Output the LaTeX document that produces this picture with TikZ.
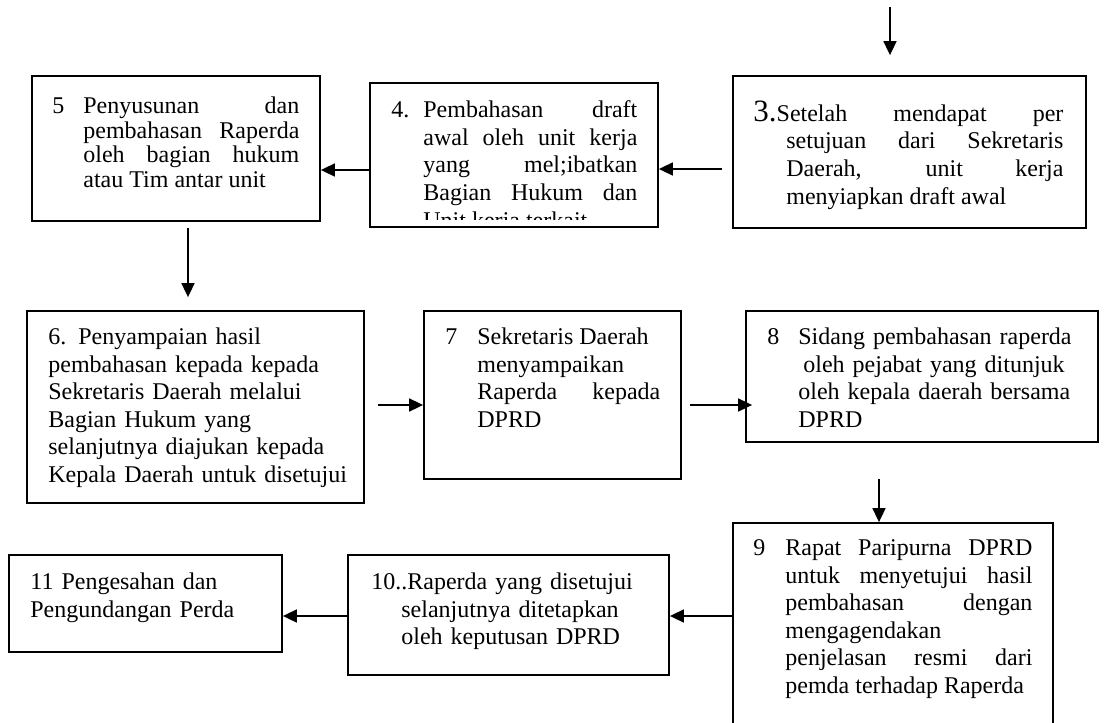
\documentclass[tikz,border=0pt]{standalone}
\usepackage{fontspec}
\setmainfont{Liberation Serif}
\usetikzlibrary{arrows.meta}
\hyphenpenalty=10000
\exhyphenpenalty=10000
\tolerance=10000

\begin{document}
\begin{tikzpicture}[
  x=0.5pt, y=-0.5pt,
  stage/.style={draw, line width=0.9pt, inner sep=0pt},
  stagetext/.style={anchor=north west, inner sep=0pt, align=justify,
                    font=\fontsize{12}{13.8}\selectfont},
  arr/.style={-{Triangle[length=7pt, width=6.5pt]}, line width=0.85pt},
]
\useasboundingbox (0,0) rectangle (1104,723);
\clip (0,0) rectangle (1104,723);

% === Boxes ===
\node[stage, minimum width=176.5pt, minimum height=76pt] (s3) at (909.5,152) {};
\node[stage, minimum width=144pt, minimum height=72pt] (s4) at (514,155) {};
\node[stage, minimum width=144pt, minimum height=72.5pt] (s5) at (176,148.5) {};
\node[stage, minimum width=168.5pt, minimum height=96pt] (s6) at (195.5,407) {};
\node[stage, minimum width=128.5pt, minimum height=84pt] (s7) at (552.5,395) {};
\node[stage, minimum width=176pt, minimum height=65.5pt] (s8) at (922,376.5) {};
\node[stage, minimum width=160pt, minimum height=111pt] (s9) at (893,634) {};
\node[stage, minimum width=160.5pt, minimum height=60pt] (s10) at (508.5,615) {};
\node[stage, minimum width=136.5pt, minimum height=48.5pt] (s11) at (145.5,603.5) {};

% === Texts ===
\node[stagetext, text width=155pt] (t3) at (753,101.5)
  {\noindent\hangindent=16.5pt\hangafter=1\strut\smash{\fontsize{15.5}{15}\selectfont 3.}Setelah mendapat per\linebreak
   setujuan dari Sekretaris\linebreak Daerah, unit kerja\linebreak menyiapkan draft awal\par};

\begin{scope}
  \clip (370,83) rectangle (658,219.5);
  \node[stagetext, text width=123pt] (t4) at (391,98)
    {\noindent\hangindent=16pt\hangafter=1\strut\makebox[16pt][l]{4.}Pembahasan draft\linebreak
     awal oleh unit kerja\linebreak yang mel;ibatkan\linebreak Bagian Hukum dan\linebreak Unit kerja terkait\par};
\end{scope}

\node[stagetext, text width=123.5pt, font=\fontsize{12}{12.3}\selectfont] (t5) at (52,96)
  {\noindent\hangindent=15.5pt\hangafter=1\strut\makebox[15.5pt][l]{5}Penyusunan dan\linebreak
   pembahasan Raperda\linebreak oleh bagian hukum\linebreak atau Tim antar unit\par};

\node[stagetext, align=left, text width=160pt] (t6) at (48,324.7)
  {\strut 6. Penyampaian hasil\newline pembahasan kepada kepada\newline Sekretaris Daerah melalui\newline
   Bagian Hukum yang\newline selanjutnya diajukan kepada\newline Kepala Daerah untuk disetujui\par};

\node[stagetext, text width=107.5pt] (t7) at (445,324.7)
  {\noindent\hangindent=16pt\hangafter=1\strut\makebox[16pt][l]{7}Sekretaris Daerah\newline
   menyampaikan\newline Raperda kepada\linebreak DPRD\par};

\node[stagetext, align=left, text width=156pt] (t8) at (767,324.7)
  {\noindent\hangindent=15.5pt\hangafter=1\strut\makebox[15.5pt][l]{8}Sidang pembahasan raperda\newline
   \hspace*{2.5pt}oleh pejabat yang ditunjuk\newline oleh kepala daerah bersama\newline DPRD\par};

\node[stagetext, text width=139.5pt] (t9) at (753,535.7)
  {\noindent\hangindent=16pt\hangafter=1\strut\makebox[16pt][l]{9}Rapat Paripurna DPRD\linebreak
   untuk menyetujui hasil\linebreak pembahasan dengan\linebreak mengagendakan\newline
   penjelasan resmi dari\linebreak pemda terhadap Raperda\par};

\node[stagetext, align=left, text width=140pt] (t10) at (371,569.7)
  {\noindent\hangindent=15pt\hangafter=1\strut 10..Raperda yang disetujui\newline
   selanjutnya ditetapkan\newline oleh keputusan DPRD\par};

\node[stagetext, align=left, text width=125pt] (t11) at (30,569.7)
  {\strut 11 Pengesahan dan\newline Pengundangan Perda\par};

% === Arrows ===
\coordinate (start) at (890,7);
\draw[arr, shorten >=10pt] (start) -- (s3.north -| start);
\draw[arr, shorten <=5pt] (s3.west |- 0,169) -- (s4.east |- 0,169);
\draw[arr] (s4.west |- 0,170) -- (s5.east |- 0,170);
\draw[arr, shorten <=3pt, shorten >=6.5pt] (s5.south -| 188,0) -- (s6.north -| 188,0);
\draw[arr, shorten <=6.5pt] (s6.east |- 0,405) -- (s7.west |- 0,405);
\draw[arr, shorten <=4pt, shorten >=-3.5pt] (s7.east |- 0,405) -- (s8.west |- 0,405);
\draw[arr, shorten <=18pt] (s8.south -| 879,0) -- (s9.north -| 879,0);
\draw[arr] (s9.west |- 0,616) -- (s10.east |- 0,616);
\draw[arr] (s10.west |- 0,616) -- (s11.east |- 0,616);

\end{tikzpicture}
\end{document}
